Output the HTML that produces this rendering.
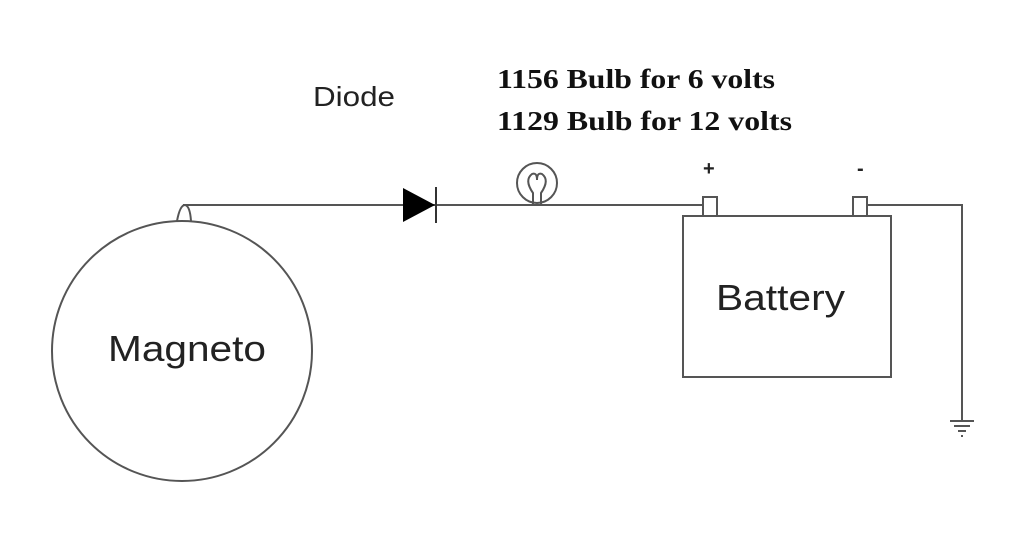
<!DOCTYPE html>
<html><head><meta charset="utf-8"><style>html,body{margin:0;padding:0;background:#fff}svg{display:block}</style></head>
<body>
<svg width="1030" height="534" viewBox="0 0 1030 534" xmlns="http://www.w3.org/2000/svg">
<g fill="none" stroke="#555" stroke-width="2">
<circle cx="182" cy="351" r="130"/>
<path d="M177 221 Q180 205 185 205 Q190 206 191 221"/>
<line x1="183" y1="205" x2="703" y2="205"/>
<line x1="436" y1="187" x2="436" y2="223" stroke="#333"/>
<circle cx="537" cy="183" r="20"/>
<path d="M533 205 L533 193 Q524 180 532 174 Q537 172 537 180 Q537 172 542 174 Q550 180 541 193 L541 205"/>
<rect x="683" y="216" width="208" height="161"/>
<rect x="703" y="197" width="14" height="19"/>
<rect x="853" y="197" width="14" height="19"/>
<polyline points="867,205 962,205 962,420"/>
<line x1="950" y1="421" x2="974" y2="421"/>
<line x1="954" y1="426" x2="970" y2="426"/>
<line x1="958" y1="431" x2="966" y2="431"/>
<line x1="961" y1="436" x2="963" y2="436"/>
</g>
<polygon points="403,188 403,222 435,205" fill="#000"/>
<g font-family="Liberation Sans, sans-serif" fill="#222">
<text x="108" y="361" font-size="36" textLength="158" lengthAdjust="spacingAndGlyphs">Magneto</text>
<text x="716" y="310" font-size="36" textLength="129" lengthAdjust="spacingAndGlyphs">Battery</text>
<text x="313" y="106" font-size="28" textLength="82" lengthAdjust="spacingAndGlyphs">Diode</text>
<text x="703" y="175" font-size="20" font-weight="bold">+</text>
<text x="857" y="175" font-size="20" font-weight="bold">-</text>
</g>
<g font-family="Liberation Serif, serif" font-weight="bold" font-size="27" fill="#111">
<text x="497" y="88" textLength="278" lengthAdjust="spacingAndGlyphs">1156 Bulb for 6 volts</text>
<text x="497" y="130" textLength="295" lengthAdjust="spacingAndGlyphs">1129 Bulb for 12 volts</text>
</g>
</svg>
</body></html>
